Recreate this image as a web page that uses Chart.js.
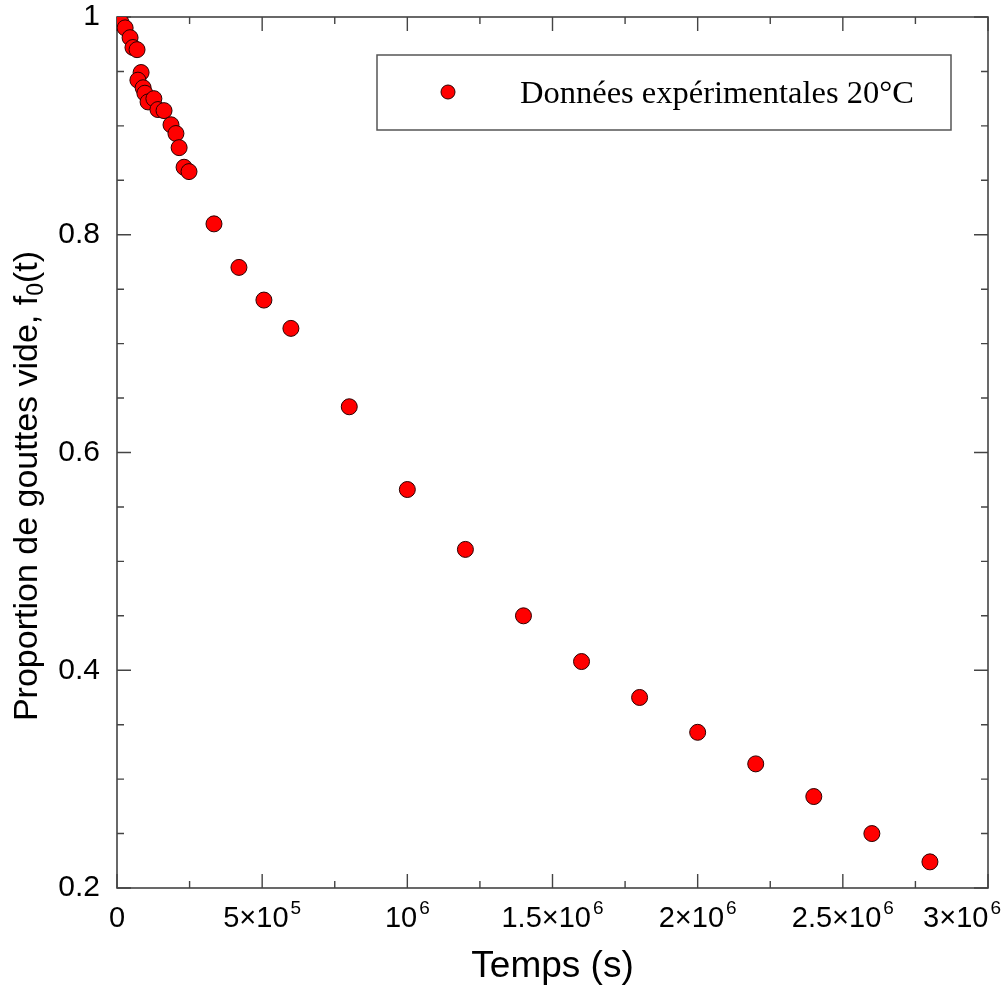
<!DOCTYPE html>
<html><head><meta charset="utf-8">
<script src="https://cdn.jsdelivr.net/npm/chart.js@4.4.0/dist/chart.umd.min.js"></script>
<style>html,body{margin:0;padding:0;background:#fff}#wrap{width:1005px;height:987px}</style>
</head><body><div id="wrap"><canvas id="c" width="1005" height="987"></canvas></div>
<script>
const timeSeconds = [0, 1.4e4, 2.8e4, 4.5e4, 5.5e4, 6.9e4, 8.3e4, 7.2e4, 9.0e4, 9.6e4, 1.07e5, 1.27e5, 1.41e5, 1.62e5, 1.86e5, 2.03e5, 2.14e5, 2.31e5, 2.48e5, 3.34e5, 4.20e5, 5.06e5, 5.99e5, 8e5, 1.0e6, 1.2e6, 1.4e6, 1.6e6, 1.8e6, 2.0e6, 2.2e6, 2.4e6, 2.6e6, 2.8e6];
const emptyFraction = [1.0, 0.995, 0.990, 0.981, 0.972, 0.970, 0.949, 0.942, 0.935, 0.930, 0.922, 0.925, 0.915, 0.914, 0.901, 0.893, 0.880, 0.862, 0.858, 0.810, 0.770, 0.740, 0.714, 0.642, 0.566, 0.511, 0.450, 0.408, 0.375, 0.343, 0.314, 0.284, 0.250, 0.224];
const xTickValues = [0, 5e5, 1e6, 1.5e6, 2e6, 2.5e6, 3e6];
const xTickMantissa = ['0', '5×10', '10', '1.5×10', '2×10', '2.5×10', '3×10'];
const xTickExponent = ['', '5', '6', '6', '6', '6', '6'];
const yTickValues = [0.2, 0.4, 0.6, 0.8, 1];
const yTickLabels = ['0.2', '0.4', '0.6', '0.8', '1'];
const seriesLabel = 'Données expérimentales 20°C';
const xTitle = 'Temps (s)';
const yTitleParts = ['Proportion de gouttes vide, f', '0', '(t)'];
const xMinorStep = 2.5e5;
const yMinorStep = 0.05;

const frameColor = '#444';
const SANS = '"Liberation Sans", Arial, sans-serif';

const framePlugin = {
  id: 'frame',
  beforeDatasetsDraw(chart) {
    const {ctx, chartArea: a, scales} = chart;
    const xs = scales.x, ys = scales.y;
    ctx.save();
    ctx.strokeStyle = frameColor;
    ctx.lineWidth = 1.6;
    ctx.strokeRect(a.left, a.top, a.right - a.left, a.bottom - a.top);
    ctx.lineWidth = 1.4;
    ctx.beginPath();
    for (let v = xs.min; v <= xs.max + 1; v += xMinorStep) {
      const major = xTickValues.some(t => Math.abs(t - v) < 1);
      const L = major ? 14 : 7;
      const p = xs.getPixelForValue(v);
      ctx.moveTo(p, a.bottom); ctx.lineTo(p, a.bottom - L);
      ctx.moveTo(p, a.top); ctx.lineTo(p, a.top + L);
    }
    for (let v = ys.min; v <= ys.max + 1e-9; v += yMinorStep) {
      const major = yTickValues.some(t => Math.abs(t - v) < 1e-6);
      const L = major ? 14 : 7;
      const p = ys.getPixelForValue(v);
      ctx.moveTo(a.left, p); ctx.lineTo(a.left + L, p);
      ctx.moveTo(a.right, p); ctx.lineTo(a.right - L, p);
    }
    ctx.stroke();
    ctx.restore();
  },
  afterDraw(chart) {
    const {ctx, chartArea: a, scales} = chart;
    const ds = chart.data.datasets[0];
    ctx.save();
    // x tick labels with superscript exponents
    ctx.fillStyle = '#000';
    ctx.textBaseline = 'alphabetic';
    ctx.textAlign = 'left';
    const mFont = '29px ' + SANS, eFont = '19px ' + SANS;
    xTickValues.forEach((v, i) => {
      ctx.font = mFont; const wm = ctx.measureText(xTickMantissa[i]).width;
      ctx.font = eFont; const we = xTickExponent[i] ? ctx.measureText(xTickExponent[i]).width + 2 : 0;
      const w = wm + we;
      let x0 = scales.x.getPixelForValue(v) - w / 2;
      if (x0 + w > 1001) x0 = 1001 - w;
      ctx.font = mFont; ctx.fillText(xTickMantissa[i], x0, 927);
      if (xTickExponent[i]) { ctx.font = eFont; ctx.fillText(xTickExponent[i], x0 + wm + 2, 914); }
    });
    // legend
    ctx.fillStyle = '#fff';
    ctx.fillRect(377, 55, 574, 75);
    ctx.strokeStyle = '#555';
    ctx.lineWidth = 1.5;
    ctx.strokeRect(377, 55, 574, 75);
    ctx.beginPath();
    ctx.arc(448, 92, 7, 0, Math.PI * 2);
    ctx.fillStyle = ds.backgroundColor;
    ctx.fill();
    ctx.strokeStyle = ds.borderColor;
    ctx.lineWidth = 1;
    ctx.stroke();
    ctx.fillStyle = '#000';
    ctx.font = '32.5px "Liberation Serif", "Times New Roman", serif';
    ctx.fillText(ds.label, 520, 103);
    // x title
    ctx.font = '37px ' + SANS;
    ctx.textAlign = 'center';
    ctx.fillText(xTitle, (a.left + a.right) / 2, 977);
    // y title
    const big = '34px ' + SANS;
    const small = '23px ' + SANS;
    ctx.font = big; const w0 = ctx.measureText(yTitleParts[0]).width;
    const w2 = ctx.measureText(yTitleParts[2]).width;
    ctx.font = small; const w1 = ctx.measureText(yTitleParts[1]).width;
    const total = w0 + w1 + w2;
    ctx.translate(37, 486);
    ctx.rotate(-Math.PI / 2);
    ctx.textAlign = 'left';
    let x = -total / 2;
    ctx.font = big; ctx.fillText(yTitleParts[0], x, 0); x += w0;
    ctx.font = small; ctx.fillText(yTitleParts[1], x, 6); x += w1;
    ctx.font = big; ctx.fillText(yTitleParts[2], x, 0);
    ctx.restore();
  }
};

new Chart(document.getElementById('c'), {
  type: 'scatter',
  data: {
    datasets: [{
      label: seriesLabel,
      data: timeSeconds.map((t, i) => ({x: t, y: emptyFraction[i]})),
      pointRadius: 8,
      pointHoverRadius: 8,
      backgroundColor: '#ff0000',
      borderColor: '#2a0000',
      borderWidth: 1,
      showLine: false
    }]
  },
  options: {
    responsive: false,
    animation: false,
    devicePixelRatio: 1,
    layout: {padding: {top: 17, right: 17, left: 0, bottom: 0}},
    plugins: {legend: {display: false}, tooltip: {enabled: false}},
    scales: {
      x: {
        type: 'linear', min: 0, max: 3e6,
        afterBuildTicks: s => { s.ticks = xTickValues.map(v => ({value: v})); },
        afterFit: s => { s.height = 99; s.paddingLeft = 0; s.paddingRight = 0; },
        grid: {display: false},
        border: {display: false},
        ticks: {display: false}
      },
      y: {
        type: 'linear', min: 0.2, max: 1,
        afterBuildTicks: s => { s.ticks = yTickValues.map(v => ({value: v})); },
        afterFit: s => { s.width = 117; s.paddingTop = 0; s.paddingBottom = 0; },
        grid: {display: false},
        border: {display: false},
        ticks: {
          autoSkip: false, padding: 9, color: '#000',
          font: {family: SANS, size: 30},
          callback: v => { const i = yTickValues.findIndex(t => Math.abs(t - v) < 1e-6); return i >= 0 ? yTickLabels[i] : ''; }
        }
      }
    }
  },
  plugins: [framePlugin]
});
</script>
</body></html>
